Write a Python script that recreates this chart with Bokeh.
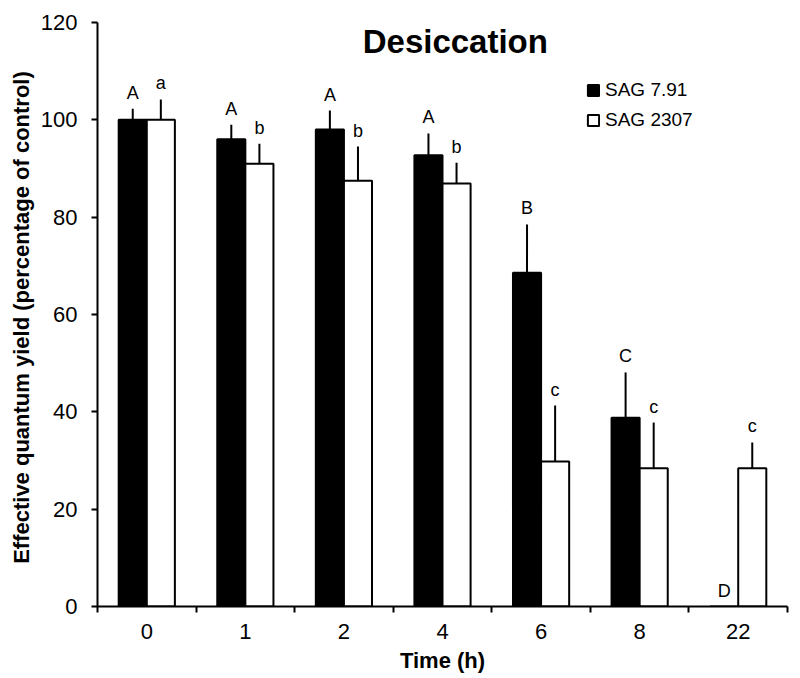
import numpy as np
from bokeh.plotting import figure
from bokeh.models import (ColumnDataSource, Range1d, FixedTicker, Legend, LegendItem, Label)
from bokeh.transform import dodge
from bokeh.core.properties import value
from bokeh.embed import file_html
from bokeh.resources import INLINE

# ---- data ----
times = ["0", "1", "2", "4", "6", "8", "22"]
sag791 = [100.0, 96.0, 98.0, 92.7, 68.6, 38.8, 0.0]
sag791_err = [2.3, 3.0, 3.9, 4.5, 9.9, 9.3, 0.0]
sag2307 = [100.0, 91.0, 87.5, 86.9, 29.8, 28.4, 28.4]
sag2307_err = [4.2, 4.1, 7.0, 4.3, 11.5, 9.4, 5.3]
letters791 = ["A", "A", "A", "A", "B", "C", "D"]
letters2307 = ["a", "b", "b", "b", "c", "c", "c"]
series_names = ["SAG 7.91", "SAG 2307"]
y_ticks = [0, 20, 40, 60, 80, 100, 120]

FONT = "Liberation Sans"
BW = 0.285
OFF = 0.1425

pos = np.arange(len(times)) + 0.5
src = ColumnDataSource(dict(
    x=pos,
    m1=sag791, t1=[m + e for m, e in zip(sag791, sag791_err)], l1=letters791,
    m2=sag2307, t2=[m + e for m, e in zip(sag2307, sag2307_err)], l2=letters2307,
))

p = figure(width=798, height=676, output_backend="svg", toolbar_location=None,
           x_range=Range1d(0, len(times)), y_range=Range1d(0, 120),
           min_border_left=97, min_border_right=11, min_border_top=22, min_border_bottom=70)
p.outline_line_color = None
p.grid.visible = False
p.background_fill_color = "white"
p.border_fill_color = "white"

r1 = p.vbar(x=dodge("x", -OFF, range=p.x_range), top="m1", width=BW, source=src,
            fill_color="black", line_color="black", line_width=2)
r2 = p.vbar(x=dodge("x", OFF, range=p.x_range), top="m2", width=BW, source=src,
            fill_color="white", line_color="black", line_width=2)

p.segment(x0=dodge("x", -OFF, range=p.x_range), y0="m1", x1=dodge("x", -OFF, range=p.x_range), y1="t1",
          source=src, line_color="black", line_width=2)
p.segment(x0=dodge("x", OFF, range=p.x_range), y0="m2", x1=dodge("x", OFF, range=p.x_range), y1="t2",
          source=src, line_color="black", line_width=2)

p.text(x=dodge("x", -OFF, range=p.x_range), y="t1", text="l1", source=src, y_offset=-6,
       text_align="center", text_baseline="bottom", text_font=value(FONT),
       text_font_size="18px", text_color="black")
p.text(x=dodge("x", OFF, range=p.x_range), y="t2", text="l2", source=src, y_offset=-6,
       text_align="center", text_baseline="bottom", text_font=value(FONT),
       text_font_size="18px", text_color="black")

# axes
xa = p.xaxis[0]
xa.ticker = FixedTicker(ticks=list(pos), minor_ticks=list(range(len(times) + 1)))
xa.major_label_overrides = {float(v): t for v, t in zip(pos, times)}
xa.major_tick_in = 0
xa.major_tick_out = 0
xa.minor_tick_in = 0
xa.minor_tick_out = 6
xa.minor_tick_line_width = 2
xa.minor_tick_line_color = "black"
xa.axis_line_width = 2
xa.axis_line_color = "black"
xa.axis_label = "Time (h)"
xa.major_label_standoff = 11
xa.axis_label_standoff = 6

ya = p.yaxis[0]
ya.ticker = FixedTicker(ticks=y_ticks, minor_ticks=[])
ya.major_tick_in = 0
ya.major_tick_out = 6
ya.major_tick_line_width = 2
ya.major_tick_line_color = "black"
ya.minor_tick_line_color = None
ya.axis_line_width = 2
ya.axis_line_color = "black"
ya.axis_label = "Effective quantum yield (percentage  of control)"
ya.major_label_standoff = 14
ya.axis_label_standoff = 4

for ax in (xa, ya):
    ax.major_label_text_font = FONT
    ax.major_label_text_font_size = "22px"
    ax.major_label_text_color = "black"
    ax.axis_label_text_font = FONT
    ax.axis_label_text_font_size = "22px"
    ax.axis_label_text_font_style = "bold"
    ax.axis_label_text_color = "black"

# title inside frame
p.add_layout(Label(x=3.63, y=116.0, text="Desiccation", text_align="center",
                   text_baseline="alphabetic", text_font=FONT, text_font_size="33px",
                   text_font_style="bold", text_color="black"))

legend = Legend(items=[LegendItem(label=series_names[0], renderers=[r1]),
                       LegendItem(label=series_names[1], renderers=[r2])],
                location=(489, 473), padding=0, margin=0, spacing=4,
                glyph_width=14, glyph_height=14, label_height=26, label_standoff=5,
                label_text_font=FONT, label_text_font_size="19px", label_text_color="black",
                border_line_color=None, background_fill_alpha=0)
p.add_layout(legend)

open("out.html", "w").write(file_html(p, INLINE))
